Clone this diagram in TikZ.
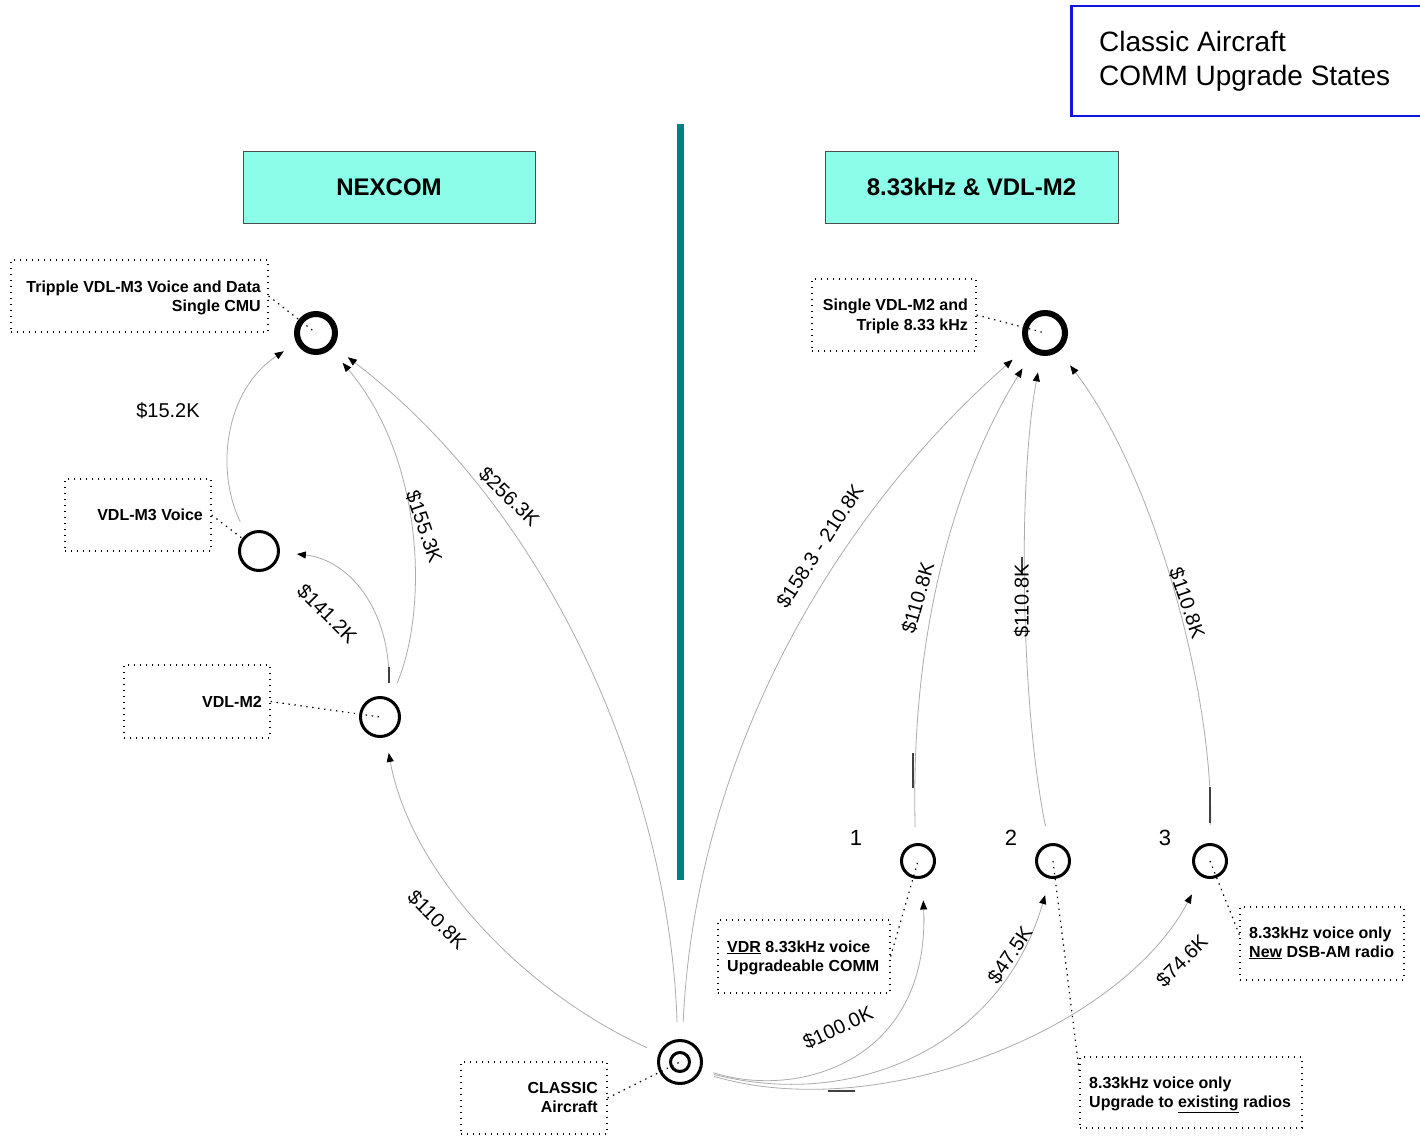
\documentclass[tikz,border=0pt]{standalone}
\usepackage{fontspec}
\setmainfont{Liberation Sans}
\usetikzlibrary{arrows.meta}
\definecolor{hdrfill}{RGB}{140,253,233}
\definecolor{divteal}{RGB}{0,128,128}
\definecolor{ttlblue}{RGB}{20,20,225}
\definecolor{conngray}{RGB}{172,172,172}
\begin{document}
\begin{tikzpicture}[x=1pt,y=-1pt,
 stateA/.style={circle,draw,line width=3pt,inner sep=0pt,minimum size=#1},
 stateB/.style={circle,draw,line width=6pt,inner sep=0pt,minimum size=#1},
 callout/.style={draw,rectangle,inner sep=0pt,line width=1.2pt,dash pattern=on 1.4pt off 4.6pt},
 lead/.style={line width=1.2pt,dash pattern=on 1.4pt off 4.6pt},
 note/.style={font=\fontsize{16}{20}\selectfont\bfseries,inner sep=0pt},
 cost/.style={font=\fontsize{20}{24}\selectfont,inner sep=0pt},
 numlbl/.style={font=\fontsize{22}{26}\selectfont,inner sep=0pt},
 conn/.style={draw=conngray,line width=0.8pt,-{Triangle[length=9pt,width=7pt,color=black]}},
 hdr/.style={draw=black!70,line width=0.8pt,fill=hdrfill,minimum width=292,minimum height=72,inner sep=0pt,font=\fontsize{24}{28}\selectfont\bfseries},
 artifact/.style={draw=black!75,line width=1.3pt},
 ttl/.style={font=\fontsize{28}{34}\selectfont,inner sep=0pt,anchor=base west}
]
\clip (0,0) rectangle (1420,1137);
\fill[white] (0,0) rectangle (1420,1137);

% title box
\node[draw=ttlblue,line width=2.5pt,minimum width=360,minimum height=110,inner sep=0pt,anchor=north west] (title) at (1070,5) {};
\node[ttl] (t1) at (1099,52) {Classic Aircraft};
\node[ttl] (t2) at (1099,86) {COMM Upgrade States};

% divider
\draw[divteal,line width=7pt] (680.5,124) -- (680.5,880);

% headers
\node[hdr] (nex) at (389,187) {NEXCOM};
\node[hdr,minimum width=293] (vdl) at (971.5,187) {8.33kHz \& VDL-M2};

% states
\node[stateB=38] (top1) at (316,333) {};
\node[stateA=39] (m3) at (259,551) {};
\node[stateA=39] (m2) at (380,717) {};
\node[stateA=43] (classic) at (680,1062) {};
\node[stateA=19] (classicin) at (680,1062) {};
\node[stateB=40] (top2) at (1045,333) {};
\node[stateA=33] (c1) at (918,861) {};
\node[stateA=33] (c2) at (1053,861) {};
\node[stateA=33] (c3) at (1210,861) {};

\node[numlbl] (n1) at (856,838) {1};
\node[numlbl] (n2) at (1011,838) {2};
\node[numlbl] (n3) at (1165,838) {3};

% callout boxes
\node[callout,minimum width=257,minimum height=72] (bA) at (139.5,296) {};
\node[callout,minimum width=146,minimum height=72] (bB) at (138,515) {};
\node[callout,minimum width=146,minimum height=73] (bC) at (197,701.5) {};
\node[callout,minimum width=146,minimum height=72] (bD) at (534,1098) {};
\node[callout,minimum width=164,minimum height=72] (bE) at (894,315) {};
\node[callout,minimum width=172,minimum height=73] (bF) at (804,956.5) {};
\node[callout,minimum width=222,minimum height=71] (bG) at (1191,1092.5) {};
\node[callout,minimum width=164,minimum height=73] (bH) at (1322,943.5) {};

\node[note,anchor=base east] (tA1) at (261,292) {Tripple VDL-M3 Voice and Data};
\node[note,anchor=base east] (tA2) at (261,311) {Single CMU};
\node[note,anchor=base east] (tB) at (203,520) {VDL-M3 Voice};
\node[note,anchor=base east] (tC) at (262,707) {VDL-M2};
\node[note,anchor=base east] (tD1) at (598,1093) {CLASSIC};
\node[note,anchor=base east] (tD2) at (598,1112) {Aircraft};
\node[note,anchor=base east] (tE1) at (968,310) {Single VDL-M2 and};
\node[note,anchor=base east] (tE2) at (968,330) {Triple 8.33 kHz};
\node[note,anchor=base west] (tF1) at (727,952) {\underline{VDR} 8.33kHz voice};
\node[note,anchor=base west] (tF2) at (727,971) {Upgradeable COMM};
\node[note,anchor=base west] (tG1) at (1089,1088) {8.33kHz voice only};
\node[note,anchor=base west] (tG2) at (1089,1107) {Upgrade to \underline{existing} radios};
\node[note,anchor=base west] (tH1) at (1249,938) {8.33kHz voice only};
\node[note,anchor=base west] (tH2) at (1249,957) {\underline{New} DSB-AM radio};

% leader lines
\draw[lead] (bA.east) -- (top1.center);
\draw[lead] (bB.east) -- (m3.143);
\draw[lead] (bC.east) -- (m2.center);
\draw[lead] (bD.east) -- (classic.center);
\draw[lead] (bE.east) -- (top2.center);
\draw[lead] (bF.east) -- (c1.center);
\draw[lead] (c2.center) -- (bG.170);
\draw[lead] (c3.center) -- (bH.174);

% NEXCOM transitions
\draw[conn,shorten <=14pt,shorten >=15pt] (m3.127) .. controls (215,470) and (225,390) .. (top1.207);
\draw[conn,shorten <=15pt,shorten >=17pt] (m2.65) .. controls (390,610) and (350,560) .. (m3.-3);
\draw[conn,shorten <=17pt,shorten >=18pt] (m2.60) .. controls (428,610) and (425,460) .. (top1.-47);
\draw[conn,shorten <=17pt,shorten >=18pt] (classic.96) .. controls (670,800) and (560,520) .. (top1.-37);
\draw[conn,shorten <=13pt,shorten >=16pt] (classic.157) .. controls (520,990) and (410,870) .. (m2.-74);

% 8.33 / VDL-M2 transitions
\draw[conn,shorten <=17pt,shorten >=19pt] (classic.84) .. controls (695,760) and (830,520) .. (top2.-142);
\draw[conn,shorten <=16pt,shorten >=19pt] (c1.98) .. controls (910,620) and (960,470) .. (top2.-123);
\draw[conn,shorten <=18pt,shorten >=17pt] (c2.103) .. controls (1020,700) and (1018,480) .. (top2.-100);
\draw[conn,shorten <=18pt,shorten >=18pt] (c3.88) .. controls (1212,680) and (1150,470) .. (top2.-52);
\draw[conn,shorten <=12pt,shorten >=22pt] (classic.-18) .. controls (800,1100) and (930,1060) .. (c1.-76);
\draw[conn,shorten <=13pt,shorten >=17pt] (classic.-23) .. controls (850,1110) and (1000,1050) .. (c2.-100);
\draw[conn,shorten <=14pt,shorten >=20pt] (classic.-27) .. controls (880,1125) and (1120,1030) .. (c3.-119);

% small dark line pieces
\draw[artifact] (389,667) -- (389,683);
\draw[artifact] (913,753) -- (913,788);
\draw[artifact] (1210,787) -- (1210,823);
\draw[artifact] (828,1091) -- (855,1091);
\draw[artifact] (1022,557) -- (1022,574);

% costs
\node[cost] (k1) at (168,411) {\$15.2K};
\node[cost,rotate=-45] (k2) at (327,614) {\$141.2K};
\node[cost,rotate=-71] (k3) at (424,527) {\$155.3K};
\node[cost,rotate=-44] (k4) at (509,497) {\$256.3K};
\node[cost,rotate=-45] (k5) at (437,920) {\$110.8K};
\node[cost,rotate=57] (k6) at (820,546) {\$158.3 - 210.8K};
\node[cost,rotate=74] (k7) at (918,598) {\$110.8K};
\node[cost,rotate=90] (k8) at (1022,601) {\$110.8K};
\node[cost,rotate=-71] (k9) at (1187,603) {\$110.8K};
\node[cost,rotate=25] (k10) at (838,1028) {\$100.0K};
\node[cost,rotate=56] (k11) at (1010,955) {\$47.5K};
\node[cost,rotate=45] (k12) at (1182,961) {\$74.6K};
\end{tikzpicture}
\end{document}
